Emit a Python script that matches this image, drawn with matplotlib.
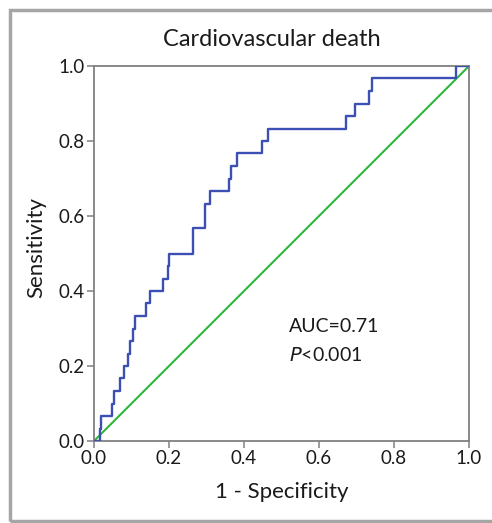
import matplotlib
matplotlib.use("Agg")
import matplotlib.pyplot as plt
from matplotlib.patches import Rectangle

plt.rcParams["font.family"] = ["Lato", "DejaVu Sans"]

# ROC curve vertices (top of each vertical jump)
FPR = [0.0, 0.016, 0.019, 0.047, 0.052, 0.068, 0.081, 0.090, 0.097, 0.104,
       0.110, 0.139, 0.150, 0.183, 0.197, 0.200, 0.264, 0.295, 0.310, 0.360,
       0.366, 0.382, 0.448, 0.465, 0.673, 0.697, 0.733, 0.742, 0.966, 1.0]
TPR = [0.0, 0.033, 0.067, 0.100, 0.133, 0.167, 0.200, 0.233, 0.267, 0.300,
       0.333, 0.367, 0.400, 0.433, 0.467, 0.500, 0.567, 0.633, 0.667, 0.700,
       0.733, 0.767, 0.800, 0.833, 0.867, 0.900, 0.933, 0.967, 1.000, 1.0]

REF_LINE = [0.0, 1.0]
TICKS = [0.0, 0.2, 0.4, 0.6, 0.8, 1.0]
TICK_LABELS = ["0.0", "0.2", "0.4", "0.6", "0.8", "1.0"]

W, H = 492, 523
SPINE = "#808080"
TXT = "#1a1a1a"


def main():
    fig = plt.figure(figsize=(W / 100, H / 100), dpi=100)
    fig.patch.set_facecolor("white")

    # outer grey frame
    fig.patches.append(Rectangle((10 / W, 2 / H), 1.2, 511 / H,
                                 transform=fig.transFigure, fill=False,
                                 edgecolor="#a6a6a6", linewidth=2.5))

    ax = fig.add_axes([94 / W, 1 - 441 / H, 375 / W, 375 / H])
    ax.plot(REF_LINE, REF_LINE, color="#2db83d", lw=1.5, zorder=2)
    ax.plot(FPR, TPR, drawstyle="steps-post", color="#3b50b2", lw=1.7, zorder=3)

    ax.set_xlim(0, 1)
    ax.set_ylim(0, 1)
    ax.set_xticks(TICKS)
    ax.set_xticklabels(TICK_LABELS)
    ax.set_yticks(TICKS)
    ax.set_yticklabels(TICK_LABELS)
    ax.tick_params(axis="both", colors=SPINE, labelcolor=TXT,
                   labelsize=13.5, length=5, width=1.1, pad=1.5)
    for sp in ax.spines.values():
        sp.set_color(SPINE)
        sp.set_linewidth(1.3)

    ax.text(0.52, 0.305, "AUC=0.71", fontsize=14, color=TXT,
            ha="left", va="center")
    ax.text(0.52, 0.23, r"$\it{P}$<0.001", fontsize=14, color=TXT,
            ha="left", va="center")

    fig.text(272 / W, 1 - 40 / H, "Cardiovascular death", fontsize=17,
             color=TXT, ha="center", va="center")
    fig.text(282 / W, 1 - 492 / H, "1 - Specificity", fontsize=16,
             color=TXT, ha="center", va="center")
    fig.text(36 / W, 1 - 247 / H, "Sensitivity", fontsize=16,
             color=TXT, ha="center", va="center", rotation=90)

    fig.savefig("out.png", dpi=100, facecolor="white")
    plt.close(fig)


if __name__ == "__main__":
    main()
